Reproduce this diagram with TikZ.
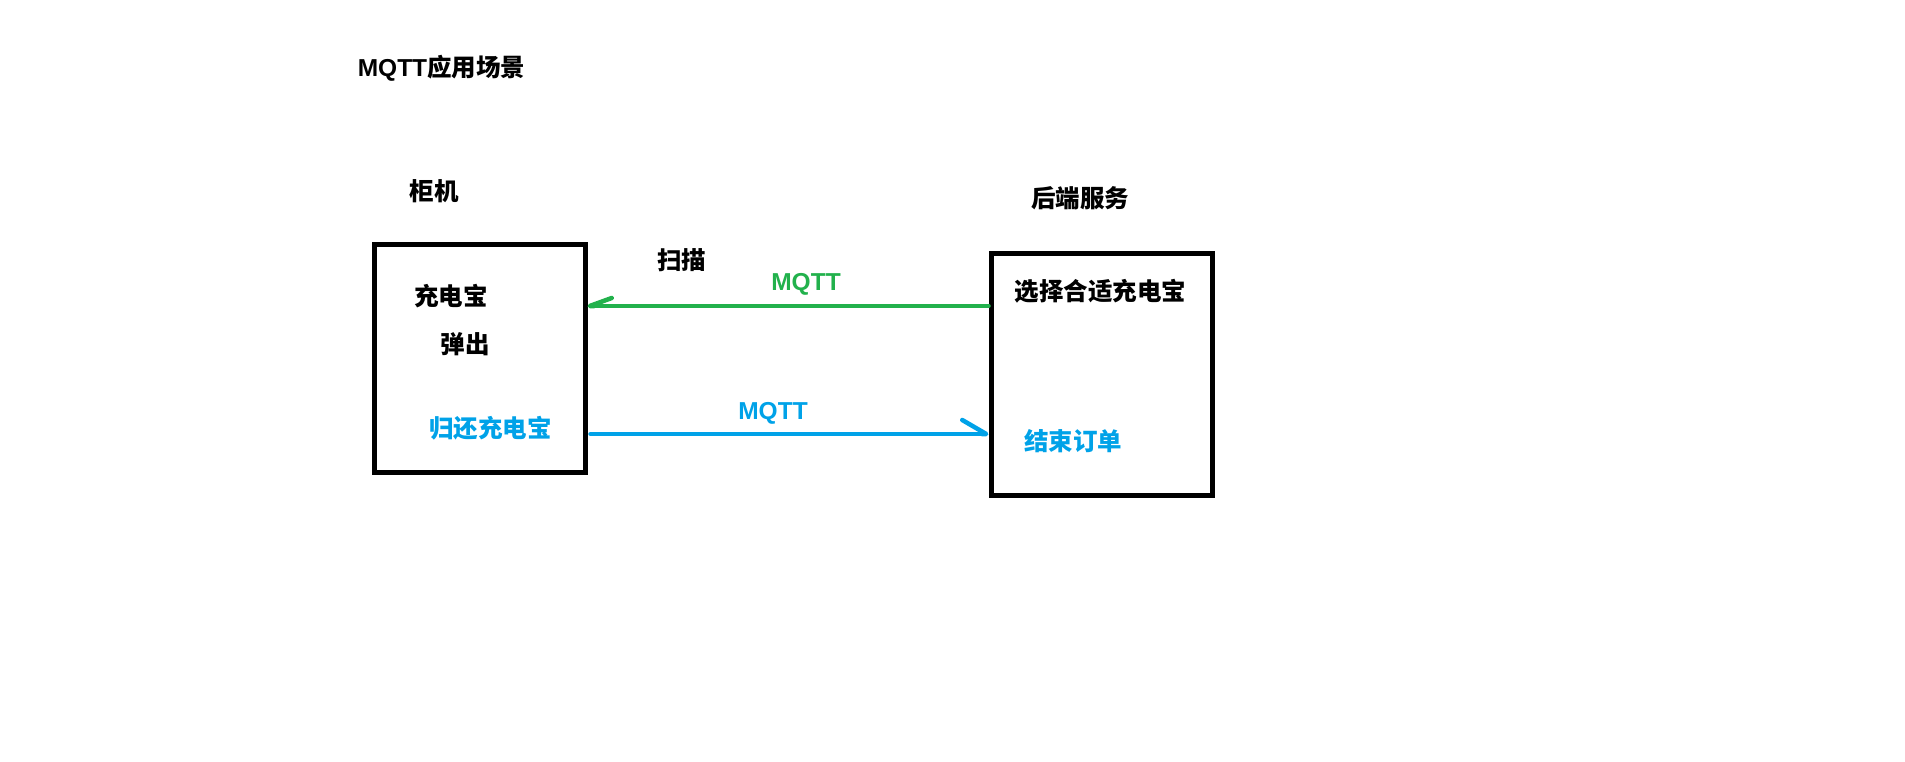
\documentclass[tikz,border=0pt]{standalone}
\usepackage{fontspec}
\setmainfont{Noto Sans CJK SC}
\newfontfamily\latin{Liberation Sans}
\usetikzlibrary{arrows.meta}

\definecolor{paintgreen}{RGB}{34,177,76}
\definecolor{paintblue}{RGB}{0,162,232}

\begin{document}
\begin{tikzpicture}[x=1pt, y=-1pt,
	every node/.style={font=\fontsize{24.5}{28}\selectfont\bfseries, inner sep=0pt},
	box/.style={draw, line width=5pt, inner sep=0pt},
	msg/.style={line width=4.5pt, line cap=round}]
				\useasboundingbox (0,0) rectangle (1905,762);
				
				% Heading
				\node (title) at (441.5,68) {{\latin MQTT}应用场景};
				
				% Side labels
				\node (cablab) at (434,191) {柜机};
				\node (srvlab) at (1080,198) {后端服务};
				
				% Boxes
				\node[
				box,
				minimum width=211pt,
				minimum height=228pt
				] (cab) at (479.5,358) {};
				
				\node[
				box,
				minimum width=221pt,
				minimum height=242pt
				] (srv) at (1101.5,374) {};
				
				% Texts in the boxes
				\node (bank) at (451,296) {充电宝};
				\node (eject) at (465,344) {弹出};
				\node[text=paintblue] (giveback) at (490.5,428) {归还充电宝};
				\node (choose) at (1100.5,291) {选择合适充电宝};
				\node[text=paintblue] (close) at (1073,441) {结束订单};
				
				% Message labels
				\node (scan) at (681.5,260) {扫描};
				\node[text=paintgreen] (mq1) at (806,284) {\latin MQTT};
				\node[text=paintblue] (mq2) at (773,413) {\latin MQTT};
				
				% Messages
				\draw[msg, paintgreen, -{Straight Barb[right, round, length=22pt, width=16pt]}]
				([yshift=68pt]srv.west) -- ([yshift=52pt]cab.east);
				\draw[msg, paintblue, shorten <=3pt, -{Straight Barb[left, round, length=24pt, width=28pt]}]
				([yshift=-76pt]cab.east) -- ([yshift=-60pt]srv.west);
\end{tikzpicture}
\end{document}
